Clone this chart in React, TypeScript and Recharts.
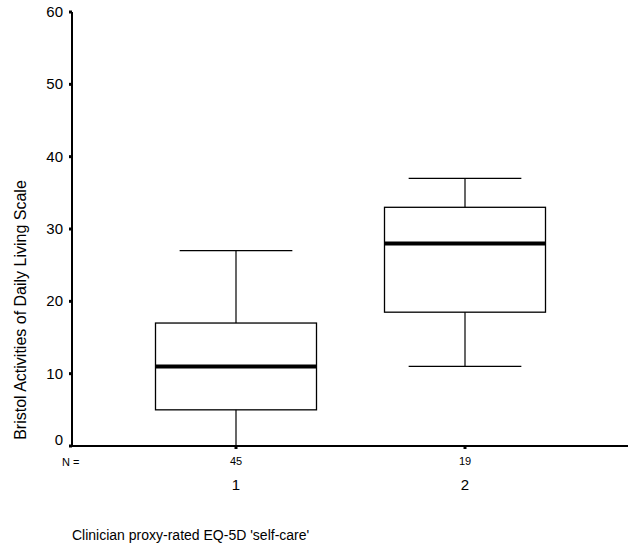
import { Bar, ComposedChart, XAxis, YAxis } from 'recharts';

const categories = ['1', '2'];
const counts = [45, 19];
const whiskerLow = [0, 11];
const quartile1 = [5, 18.5];
const medians = [11, 28];
const quartile3 = [17, 33];
const whiskerHigh = [27, 37];
const yTicks = [0, 10, 20, 30, 40, 50, 60];

const yLabel = 'Bristol Activities of Daily Living Scale';
const xTitle = "Clinician proxy-rated EQ-5D 'self-care'";

const data = categories.map((cat, i) => ({
  cat,
  n: counts[i],
  whisker: [whiskerLow[i], whiskerHigh[i]],
  box: [quartile1[i], quartile3[i]],
  median: [medians[i], medians[i]],
}));

const font = "Arial, 'Liberation Sans', sans-serif";

const WhiskerShape = (props: any) => {
  const { x, y, width, height } = props;
  const cx = x + width / 2;
  const half = width * 0.35;
  return (
    <g stroke="#000" strokeWidth={1.2}>
      <line x1={cx} y1={y} x2={cx} y2={y + height} />
      <line x1={cx - half} y1={y} x2={cx + half} y2={y} />
      <line x1={cx - half} y1={y + height} x2={cx + half} y2={y + height} />
    </g>
  );
};

const BoxShape = (props: any) => {
  const { x, y, width, height } = props;
  return <rect x={x} y={y} width={width} height={height} fill="#fff" stroke="#000" strokeWidth={1.3} />;
};

const MedianShape = (props: any) => {
  const { x, y, width } = props;
  return <line x1={x} y1={y} x2={x + width} y2={y} stroke="#000" strokeWidth={4} />;
};

const XTick = (props: any) => {
  const { x, y, index } = props;
  const row = data[index];
  if (!row) return null;
  return (
    <g fontFamily={font} fill="#000" textAnchor="middle">
      <text x={x} y={y} dy={13} fontSize={11}>
        {row.n}
      </text>
      <text x={x} y={y} dy={38} fontSize={15}>
        {row.cat}
      </text>
    </g>
  );
};

const YTick = (props: any) => {
  const { x, y, payload } = props;
  const shift = payload.value === 0 ? -6 : 0;
  return (
    <text x={x} y={y + shift} dy={5} textAnchor="end" fontSize={15} fontFamily={font} fill="#000">
      {payload.value}
    </text>
  );
};

const YTitle = (props: any) => {
  const { viewBox } = props;
  const cx = 20;
  const cy = viewBox.y + viewBox.height / 2 + 81;
  return (
    <text
      x={cx}
      y={cy}
      transform={`rotate(-90, ${cx}, ${cy})`}
      textAnchor="middle"
      dominantBaseline="central"
      fontSize={16}
      fontFamily={font}
      fill="#000"
    >
      {yLabel}
    </text>
  );
};

const XTitle = (props: any) => {
  const { viewBox } = props;
  return (
    <g fontFamily={font} fill="#000">
      <text x={viewBox.x - 10} y={viewBox.y + 20} fontSize={11}>
        N =
      </text>
      <text x={viewBox.x} y={viewBox.y + 94} fontSize={14}>
        {xTitle}
      </text>
    </g>
  );
};

export default function App() {
  return (
    <div style={{ position: 'absolute', left: 0, top: 0, width: 630, height: 546, background: '#fff' }}>
      <ComposedChart
        width={630}
        height={546}
        data={data}
        margin={{ top: 12, right: 2, bottom: 40, left: 16 }}
        barSize={161}
        barGap={-161}
        barCategoryGap={0}
      >
        <XAxis
          dataKey="cat"
          height={60}
          padding={{ left: 49.5, right: 48.5 }}
          axisLine={{ stroke: '#000', strokeWidth: 2 }}
          tickLine={{ stroke: '#000', strokeWidth: 3 }}
          tickSize={3}
          tickMargin={3}
          tick={<XTick />}
          label={<XTitle />}
        />
        <XAxis xAxisId="top" orientation="top" dataKey="cat" height={0} tick={false} tickLine={false} axisLine={{ stroke: '#000', strokeWidth: 1 }} />
        <YAxis
          width={56}
          domain={[0, 60]}
          ticks={yTicks}
          axisLine={{ stroke: '#000', strokeWidth: 2 }}
          tickLine={{ stroke: '#000', strokeWidth: 3 }}
          tickSize={3}
          tickMargin={6}
          tick={<YTick />}
          label={<YTitle />}
        />
        <YAxis yAxisId="right" orientation="right" width={0} domain={[0, 60]} tick={false} tickLine={false} axisLine={{ stroke: '#000', strokeWidth: 1 }} />
        <Bar dataKey="whisker" shape={<WhiskerShape />} isAnimationActive={false} />
        <Bar dataKey="box" shape={<BoxShape />} isAnimationActive={false} />
        <Bar dataKey="median" shape={<MedianShape />} isAnimationActive={false} />
      </ComposedChart>
    </div>
  );
}
